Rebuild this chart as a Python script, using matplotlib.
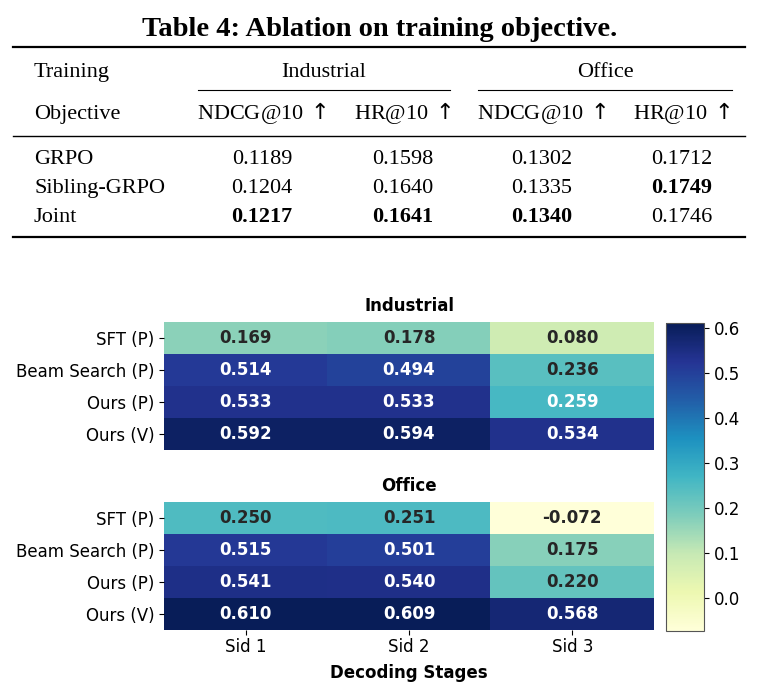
import numpy as np
import matplotlib
matplotlib.use("Agg")
import matplotlib.pyplot as plt
from matplotlib.lines import Line2D

# table data
tab_title = "Table 4: Ablation on training objective."
objectives = ["GRPO", "Sibling-GRPO", "Joint"]
groups = ["Industrial", "Office"]
metrics = ["NDCG@10$\\,\\uparrow$", "HR@10$\\,\\uparrow$", "NDCG@10$\\,\\uparrow$", "HR@10$\\,\\uparrow$"]
tab_vals = [["0.1189", "0.1598", "0.1302", "0.1712"],
            ["0.1204", "0.1640", "0.1335", "0.1749"],
            ["0.1217", "0.1641", "0.1340", "0.1746"]]
tab_bold = [[0, 0, 0, 0],
            [0, 0, 0, 1],
            [1, 1, 1, 0]]

# heatmap data
methods = ["SFT (P)", "Beam Search (P)", "Ours (P)", "Ours (V)"]
stages = ["Sid 1", "Sid 2", "Sid 3"]
industrial = np.array([[0.169, 0.178, 0.080],
                       [0.514, 0.494, 0.236],
                       [0.533, 0.533, 0.259],
                       [0.592, 0.594, 0.534]])
office = np.array([[0.250, 0.251, -0.072],
                   [0.515, 0.501, 0.175],
                   [0.541, 0.540, 0.220],
                   [0.610, 0.609, 0.568]])

W, H = 765, 688
fig = plt.figure(figsize=(W / 100, H / 100), dpi=100)

def fx(x):
    return x / W

def fy(y):
    return 1 - y / H

serif = ["Liberation Serif", "DejaVu Serif"]

# ---- table ----
fig.text(fx(380), fy(36), tab_title, family=serif, fontsize=20.5, fontweight="bold",
         ha="center", va="baseline")

def hline(x0, x1, y, lw):
    fig.add_artist(Line2D([fx(x0), fx(x1)], [fy(y), fy(y)], color="black", lw=lw,
                          transform=fig.transFigure))

hline(13, 745, 47, 1.6)
hline(13, 745, 136, 1.0)
hline(13, 745, 237, 1.6)
hline(198, 450, 90, 0.8)
hline(478, 732, 90, 0.8)

fs = 16
col_x = [262, 403, 542, 682]
fig.text(fx(34), fy(77), "Training", family=serif, fontsize=fs, va="baseline")
fig.text(fx(34), fy(119), "Objective", family=serif, fontsize=fs, va="baseline")
for g, gx in zip(groups, [324, 605]):
    fig.text(fx(gx), fy(77), g, family=serif, fontsize=fs, ha="center", va="baseline")
for m, cx in zip(metrics, col_x):
    fig.text(fx(cx), fy(119), m, family=serif, fontsize=fs, ha="center", va="baseline")
row_y = [164, 193, 222]
for i, obj in enumerate(objectives):
    fig.text(fx(34), fy(row_y[i]), obj, family=serif, fontsize=fs, va="baseline")
    for j, cx in enumerate(col_x):
        fig.text(fx(cx), fy(row_y[i]), tab_vals[i][j], family=serif, fontsize=fs,
                 ha="center", va="baseline",
                 fontweight="bold" if tab_bold[i][j] else "normal")

# ---- heatmaps ----
cmap = plt.get_cmap("YlGnBu")
vmin = min(industrial.min(), office.min())
vmax = max(industrial.max(), office.max())
norm = matplotlib.colors.Normalize(vmin=vmin, vmax=vmax)

def lum(c):
    rgb = np.array(c[:3])
    rgb = np.where(rgb <= 0.03928, rgb / 12.92, ((rgb + 0.055) / 1.055) ** 2.4)
    return 0.2126 * rgb[0] + 0.7152 * rgb[1] + 0.0722 * rgb[2]

def draw(ax, data, title, show_x):
    im = ax.imshow(data, cmap=cmap, norm=norm, aspect="auto")
    for i in range(data.shape[0]):
        for j in range(data.shape[1]):
            c = cmap(norm(data[i, j]))
            tc = "#262626" if lum(c) > 0.408 else "white"
            ax.text(j, i, f"{data[i, j]:.3f}", ha="center", va="center",
                    fontsize=12, fontweight="bold", color=tc)
    ax.set_yticks(range(len(methods)))
    ax.set_yticklabels(methods, fontsize=12)
    ax.set_xticks(range(len(stages)))
    if show_x:
        ax.set_xticklabels(stages, fontsize=12)
        ax.tick_params(axis="x", pad=2)
        ax.set_xlabel("Decoding Stages", fontsize=12, fontweight="bold", labelpad=6)
    else:
        ax.set_xticklabels([])
        ax.tick_params(axis="x", length=0)
    for s in ax.spines.values():
        s.set_visible(False)
    ax.set_title(title, fontsize=12, fontweight="bold", pad=8)
    return im

ax1 = fig.add_axes([fx(164), fy(450), fx(654) - fx(164), 128 / H])
ax2 = fig.add_axes([fx(164), fy(630), fx(654) - fx(164), 128 / H])
im = draw(ax1, industrial, "Industrial", False)
draw(ax2, office, "Office", True)

cax = fig.add_axes([fx(666), fy(631), fx(704) - fx(666), 308 / H])
cb = fig.colorbar(im, cax=cax)
cb.outline.set_edgecolor("#555555")
cb.outline.set_linewidth(0.8)
cb.set_ticks([0.0, 0.1, 0.2, 0.3, 0.4, 0.5, 0.6])
cb.ax.tick_params(labelsize=12)

fig.savefig("out.png", dpi=100)
